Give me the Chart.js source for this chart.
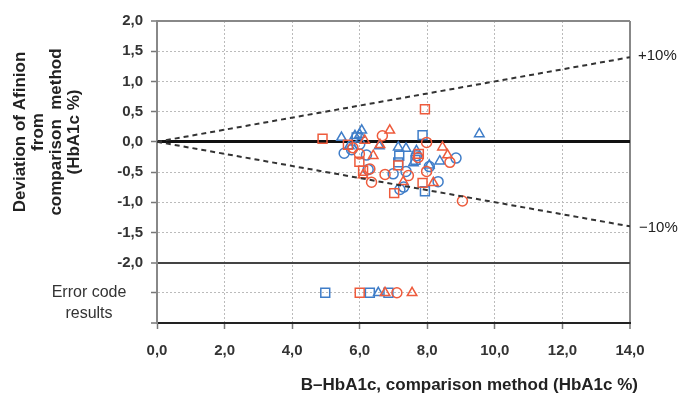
<!DOCTYPE html>
<html>
<head>
<meta charset="utf-8">
<script src="https://cdn.jsdelivr.net/npm/chart.js@4.4.1/dist/chart.umd.min.js"></script>
<style>
  html, body { margin: 0; padding: 0; background: #fff; }
  canvas { display: block; }
</style>
</head>
<body>
<canvas id="afinionChart" width="682" height="394"></canvas>
<script>
// values (x = comparison HbA1c %, y = deviation)
const ERROR_ROW = -2.5;

const redSquareX = [4.9, 7.93, 5.99, 7.02, 7.86, 7.14, 6.1, 5.65, 7.75];
const redSquareY = [0.05, 0.54, -0.33, -0.85, -0.68, -0.39, -0.48, -0.05, -0.2];
const redSquareErrX = [6.0];

const redCircleX = [9.04, 6.35, 6.67, 7.98, 8.67, 6.75, 7.44, 7.98, 6.3, 5.99, 7.73, 5.8];
const redCircleY = [-0.98, -0.67, 0.1, -0.01, -0.34, -0.54, -0.56, -0.49, -0.45, -0.2, -0.26, -0.1];
const redCircleErrX = [7.1];

const redTriangleX = [6.89, 8.45, 6.6, 6.4, 7.29, 8.18, 6.15, 8.6, 6.1];
const redTriangleY = [0.19, -0.09, -0.05, -0.23, -0.66, -0.68, 0.02, -0.22, -0.55];
const redTriangleErrX = [6.75, 7.55];

const blueSquareX = [7.86, 7.93, 7.17, 7.14, 5.91, 7.65];
const blueSquareY = [0.11, -0.82, -0.23, -0.34, 0.07, -0.3];
const blueSquareErrX = [4.98, 6.3, 6.85];

const blueCircleX = [5.54, 5.76, 6.99, 7.19, 8.32, 8.85, 6.25, 7.37, 6.2, 7.68, 8.06, 6.0, 7.3];
const blueCircleY = [-0.19, -0.13, -0.53, -0.79, -0.66, -0.27, -0.46, -0.49, -0.22, -0.23, -0.41, -0.04, -0.75];
const blueCircleErrX = [];

const blueTriangleX = [9.54, 5.46, 6.06, 7.14, 7.37, 8.37, 7.68, 8.06, 5.86, 7.59, 6.58, 5.69, 6.0];
const blueTriangleY = [0.13, 0.07, 0.19, -0.09, -0.11, -0.32, -0.15, -0.39, 0.1, -0.35, -0.07, -0.07, 0.12];
const blueTriangleErrX = [6.55];

// +/-10% limit lines
const limitX = [0, 14];
const upperLimitY = [0, 1.4];
const lowerLimitY = [0, -1.4];

const yTitleLines = ["Deviation of Afinion", "from", "comparison  method", "(HbA1c %)"];
const xTitle = "B\u2013HbA1c, comparison method (HbA1c %)";
const errorRowLabel = ["Error code", "results"];

const BLUE = "#3f7dc8";
const RED = "#ee5b3c";
const FONT = '"Liberation Sans", Arial, sans-serif';

function toPoints(xs, ys, errXs) {
  return xs
    .map((x, i) => ({ x: x, y: ys[i] }))
    .concat(errXs.map((x) => ({ x: x, y: ERROR_ROW })));
}

function markerSet(label, xs, ys, errXs, color, style, radius) {
  return {
    label: label,
    data: toPoints(xs, ys, errXs),
    pointStyle: style,
    pointRadius: radius,
    borderColor: color,
    backgroundColor: "rgba(0,0,0,0)",
    borderWidth: 1.5,
  };
}

function limitLine(label, ys) {
  return {
    label: label,
    data: limitX.map((x, i) => ({ x: x, y: ys[i] })),
    showLine: true,
    borderColor: "#333",
    borderWidth: 2,
    borderDash: [5, 4],
    pointRadius: 0,
  };
}

function fmt(v) {
  return v.toFixed(1).replace(".", ",");
}

// titles and side labels that sit outside the normal axis layout
const textPlugin = {
  id: "chartText",
  afterDraw(chart) {
    const { ctx, chartArea, scales } = chart;
    const y = scales.y;
    ctx.save();
    ctx.fillStyle = "#222";
    ctx.textBaseline = "middle";

    ctx.font = "15px " + FONT;
    ctx.textAlign = "left";
    ctx.fillText("+10%", chartArea.right + 8, y.getPixelForValue(upperLimitY[1]) - 1);
    ctx.fillText("\u221210%", chartArea.right + 9, y.getPixelForValue(lowerLimitY[1]) + 1);

    ctx.font = "16px " + FONT;
    ctx.fillStyle = "#333";
    ctx.textAlign = "center";
    const rowY = y.getPixelForValue(ERROR_ROW);
    errorRowLabel.forEach((line, i) => ctx.fillText(line, 89, rowY + i * 21));

    ctx.fillStyle = "#222";
    ctx.font = "bold 17px " + FONT;
    ctx.textAlign = "right";
    ctx.fillText(xTitle, chartArea.right + 8, 385);

    ctx.textAlign = "center";
    ctx.translate(0, 132);
    ctx.rotate(-Math.PI / 2);
    yTitleLines.forEach((line, i) => ctx.fillText(line, 0, 20 + i * 18));
    ctx.restore();
  },
};

const ctx = document.getElementById("afinionChart").getContext("2d");
const afinionChart = new Chart(ctx, {
  type: "scatter",
  data: {
    datasets: [
      limitLine("+10%", upperLimitY),
      limitLine("-10%", lowerLimitY),
      markerSet("red squares", redSquareX, redSquareY, redSquareErrX, RED, "rect", 6.3),
      markerSet("red circles", redCircleX, redCircleY, redCircleErrX, RED, "circle", 5),
      markerSet("red triangles", redTriangleX, redTriangleY, redTriangleErrX, RED, "triangle", 5.5),
      markerSet("blue squares", blueSquareX, blueSquareY, blueSquareErrX, BLUE, "rect", 6.3),
      markerSet("blue circles", blueCircleX, blueCircleY, blueCircleErrX, BLUE, "circle", 5),
      markerSet("blue triangles", blueTriangleX, blueTriangleY, blueTriangleErrX, BLUE, "triangle", 5.5),
    ],
  },
  options: {
    responsive: false,
    animation: false,
    devicePixelRatio: 1,
    layout: { padding: { top: 21, right: 52, left: 0, bottom: 0 } },
    plugins: {
      legend: { display: false },
      tooltip: { enabled: false },
    },
    scales: {
      x: {
        type: "linear",
        min: 0,
        max: 14,
        afterFit: (scale) => {
          scale.height = 71;
        },
        ticks: {
          stepSize: 2,
          padding: 13,
          color: "#333",
          font: { family: FONT, size: 15, weight: "bold" },
          callback: (v) => fmt(v),
        },
        grid: {
          color: (c) => (c.tick && c.tick.value === 14 ? "#888" : c.tick && c.tick.value === 0 ? "rgba(0,0,0,0)" : "#bbb"),
          lineWidth: (c) => (c.tick && c.tick.value === 14 ? 2 : 1),
          tickColor: "#777",
          tickLength: 6,
          tickWidth: 1.5,
        },
        border: {
          color: "#222",
          width: 2,
          dash: (c) => (c.tick && (c.tick.value === 14 || c.tick.value === 0) ? [] : [2, 2]),
        },
      },
      y: {
        min: -3,
        max: 2,
        afterFit: (scale) => {
          scale.width = 157;
        },
        ticks: {
          stepSize: 0.5,
          padding: 8,
          color: "#333",
          font: { family: FONT, size: 15, weight: "bold" },
          callback: (v) => (v >= -2 ? fmt(v) : ""),
        },
        grid: {
          color: (c) => {
            const v = c.tick ? c.tick.value : null;
            if (v === 0) return "#111";
            if (v === -2) return "#444";
            if (v === -3) return "#222";
            if (v === 2) return "#888";
            return "#bbb";
          },
          lineWidth: (c) => {
            const v = c.tick ? c.tick.value : null;
            if (v === 0) return 3;
            if (v === -2 || v === -3 || v === 2) return 2;
            return 1;
          },
          tickColor: "#777",
          tickLength: 6,
          tickWidth: 1.5,
        },
        border: {
          color: "#888",
          width: 2,
          dash: (c) => {
            const v = c.tick ? c.tick.value : null;
            return v === 0 || v === -2 || v === -3 || v === 2 ? [] : [2, 2];
          },
        },
      },
    },
  },
  plugins: [textPlugin],
});
</script>
</body>
</html>
